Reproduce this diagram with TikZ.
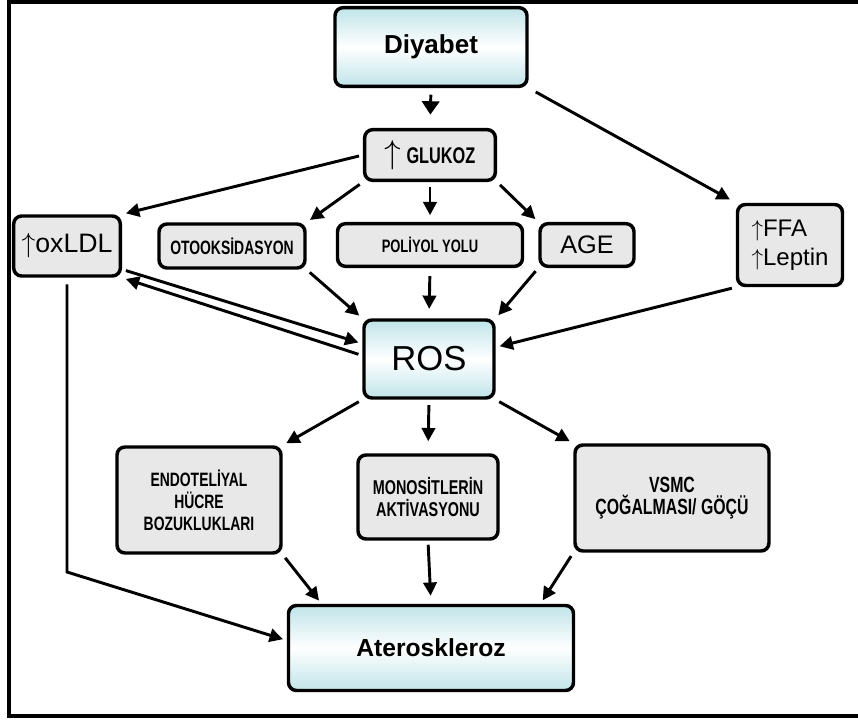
\documentclass[tikz,border=0pt]{standalone}
\usepackage{fontspec}
\setmainfont{Liberation Sans}
\newfontfamily\condfont[FakeStretch=0.72]{Liberation Sans Bold}
\usetikzlibrary{arrows.meta}
\definecolor{boxgray}{RGB}{232,232,232}
\definecolor{boxblue}{RGB}{192,228,233}
\newcommand{\fsize}[2]{\fontsize{#1}{#2}\selectfont}
\newcommand{\up}{$\uparrow$}
\newcommand{\connect}[2]{%
  \draw[->, link] (#1) -- (#2)}

\begin{document}
\begin{tikzpicture}[x=0.75pt, y=-0.75pt,
    box/.style={draw, line width=2.6pt, rounded corners=6pt, fill=boxgray,
    inner sep=0pt, align=center},
    bluebox/.style={box, top color=boxblue, bottom color=boxblue, middle color=white},
    link/.style={line width=2.2pt, shorten <=3pt, shorten >=3pt},
    >={Triangle[length=10pt,width=10pt]}]
  \useasboundingbox (0,0) rectangle (858,719);
  \draw[line width=3pt] (860,1.5) -- (9,1.5) -- (9,716) -- (860,716);

  % top
  \node[bluebox, minimum width=144pt, minimum height=59pt,
    font=\bfseries\fsize{19.5}{20}] (diyabet) at (431,47) {Diyabet};
  \node[box, minimum width=98pt, minimum height=38pt] (glukoz) at (430,155)
    {\fsize{24}{20}\up\,{\condfont\fsize{17}{18}GLUKOZ}};

  % middle row
  \node[box, minimum width=80pt, minimum height=45pt,
    font=\fsize{20}{22}] (oxldl) at (67,246) {\up oxLDL};
  \node[box, minimum width=109.5pt, minimum height=33pt,
    font=\condfont\fsize{14.5}{16}] (otooks) at (232,246) {OTOOKSİDASYON};
  \node[box, minimum width=138.75pt, minimum height=32pt,
    font=\condfont\fsize{13.5}{16}] (poliyol) at (430,245) {POLİYOL YOLU};
  \node[box, minimum width=70.5pt, minimum height=32pt,
    font=\fsize{19}{20}] (age) at (587,245) {AGE};
  \node[box, minimum width=78.75pt, minimum height=60.75pt, align=left,
    font=\fsize{18}{22}] (ffa) at (790,245) {\up FFA\\\up Leptin};

  \node[bluebox, minimum width=97.5pt, minimum height=58.5pt,
    font=\fsize{26}{26}] (ros) at (429,359) {ROS};

  % lower row
  \node[box, minimum width=123pt, minimum height=79.5pt,
    font=\condfont\fsize{14.5}{16.5}] (endotel) at (199,500)
    {ENDOTELİYAL\\HÜCRE\\BOZUKLUKLARI};
  \node[box, minimum width=105pt, minimum height=63pt,
    font=\condfont\fsize{15}{17}] (monosit) at (428,497)
    {MONOSİTLERİN\\AKTİVASYONU};
  \node[box, minimum width=145.5pt, minimum height=79.5pt,
    font=\condfont\fsize{16.5}{16}] (vsmc) at (672,498)
    {VSMC\\ÇOĞALMASI/ GÖÇÜ};

  \node[bluebox, minimum width=213.75pt, minimum height=63.75pt,
    font=\bfseries\fsize{18.5}{20}] (ateroskleroz) at (431,648) {Ateroskleroz};
  \coordinate (bend) at (67,572);

  \draw[->, link, shorten <=5pt, shorten >=10pt,
    >={Triangle[length=10pt,width=13pt]}] (diyabet.south) -- (glukoz.north);
  \draw[->, link, shorten <=6pt, shorten >=5pt] (diyabet.south east) -- (ffa.north west);
  \connect{glukoz.west}{oxldl.north east};
  \connect{glukoz.south west}{otooks.north east};
  \draw[->, link, shorten <=4pt, shorten >=5pt] (glukoz.south) -- (poliyol.north);
  \connect{glukoz.south east}{age.north west};

  \connect{otooks.south east}{ros.north west};
  \draw[->, link, shorten <=6pt, shorten >=7pt] (poliyol.south) -- (ros.north);
  \connect{age.south west}{ros.north east};
  \connect{ffa.south west}{ros.10};
  \connect{oxldl.-23}{ros.167};
  \connect{ros.177}{oxldl.south east};

  \connect{ros.south west}{endotel.north east};
  \draw[->, link, shorten <=4pt, shorten >=9pt] (ros.south) -- (monosit.north);
  \connect{ros.south east}{vsmc.north west};

  \connect{endotel.south east}{ateroskleroz.158};
  \draw[->, link, shorten <=3pt, shorten >=6pt] (monosit.south) -- (ateroskleroz.north);
  \connect{vsmc.south west}{ateroskleroz.22};
  \draw[->, link, shorten <=5pt] (oxldl.south) -- (bend) -- (ateroskleroz.177);
\end{tikzpicture}
\end{document}
